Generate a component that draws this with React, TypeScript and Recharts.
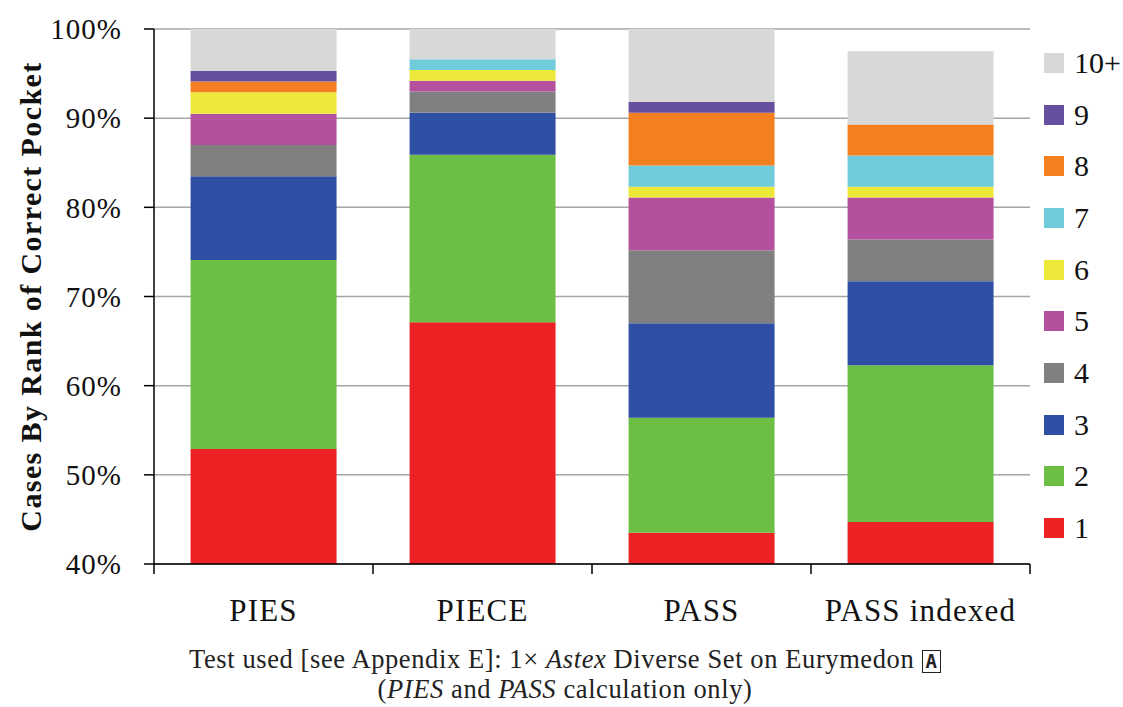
import React from 'react';
import { BarChart, Bar, XAxis, YAxis, CartesianGrid } from 'recharts';

const methods = ['PIES', 'PIECE', 'PASS', 'PASS indexed'];

// share of cases (%) for each rank of the correct pocket, per method
const rank1 = [52.9, 67.1, 43.5, 44.7];
const rank2 = [21.2, 18.8, 12.9, 17.6];
const rank3 = [9.4, 4.7, 10.6, 9.4];
const rank4 = [3.5, 2.4, 8.2, 4.7];
const rank5 = [3.5, 1.2, 5.9, 4.7];
const rank6 = [2.4, 1.2, 1.2, 1.2];
const rank7 = [0, 1.2, 2.4, 3.5];
const rank8 = [1.2, 0, 5.9, 3.5];
const rank9 = [1.2, 0, 1.2, 0];
const rank10plus = [4.7, 3.5, 8.2, 8.2];

const yTicks = [40, 50, 60, 70, 80, 90, 100];

const series = [
    { key: 'r1', label: '1', values: rank1, color: '#ED2224' },
    { key: 'r2', label: '2', values: rank2, color: '#6DBE45' },
    { key: 'r3', label: '3', values: rank3, color: '#2E4FA3' },
    { key: 'r4', label: '4', values: rank4, color: '#808080' },
    { key: 'r5', label: '5', values: rank5, color: '#B3519F' },
    { key: 'r6', label: '6', values: rank6, color: '#EEE83B' },
    { key: 'r7', label: '7', values: rank7, color: '#70CBDA' },
    { key: 'r8', label: '8', values: rank8, color: '#F37F20' },
    { key: 'r9', label: '9', values: rank9, color: '#674FA0' },
    { key: 'r10', label: '10+', values: rank10plus, color: '#D8D8D8' },
];

const data = methods.map((name, i) => {
    const row: Record<string, string | number> = { name };
    series.forEach(s => {
        row[s.key] = s.values[i];
    });
    return row;
});

const W = 1123;
const H = 707;
const PLOT_LEFT = 154;
const PLOT_RIGHT = 1030;
const PLOT_TOP = 29;
const PLOT_BOTTOM = 564;
const halfBand = (PLOT_RIGHT - PLOT_LEFT) / methods.length / 2;
const serif = '"Liberation Serif", "DejaVu Serif", serif';

const XTick = (props: any) => {
    const { x, y, payload, index } = props;
    return (
        <g>
            <line x1={x - halfBand} x2={x - halfBand} y1={y} y2={y + 10} stroke="#000" strokeWidth={1.5} />
            {index === methods.length - 1 && (
                <line x1={x + halfBand} x2={x + halfBand} y1={y} y2={y + 10} stroke="#000" strokeWidth={1.5} />
            )}
            <text x={x} y={y + 57} textAnchor="middle" fontSize={31} letterSpacing={1.2} fontFamily={serif} fill="#111">
                {payload.value}
            </text>
        </g>
    );
};

export default function App() {
    return (
        <div style={{ position: 'absolute', left: 0, top: 0, width: W, height: H, background: '#fff', fontFamily: serif }}>
            <BarChart
                width={W}
                height={H}
                data={data}
                margin={{ top: PLOT_TOP, right: W - PLOT_RIGHT, left: 0, bottom: H - PLOT_BOTTOM - 50 }}
                barCategoryGap="16.7%"
            >
                <CartesianGrid vertical={false} stroke="#A6A6A6" strokeWidth={1.5} />
                <XAxis
                    dataKey="name"
                    height={50}
                    tickLine={false}
                    tickSize={0}
                    tickMargin={0}
                    axisLine={{ stroke: '#000', strokeWidth: 1.5 }}
                    tick={<XTick />}
                    interval={0}
                />
                <YAxis
                    width={PLOT_LEFT}
                    domain={[40, 100]}
                    ticks={yTicks}
                    allowDataOverflow
                    tickFormatter={(v: number) => `${v}%`}
                    tickSize={10}
                    tickMargin={22}
                    tickLine={{ stroke: '#000', strokeWidth: 1.5 }}
                    axisLine={{ stroke: '#000', strokeWidth: 1.5 }}
                    tick={{ fontSize: 29, letterSpacing: 1, fontFamily: serif, fill: '#111' }}
                    label={{
                        value: 'Cases By Rank of Correct Pocket',
                        angle: -90,
                        position: 'insideLeft',
                        offset: 30,
                        style: { fontSize: 30, letterSpacing: 1.4, fontWeight: 'bold', fontFamily: serif, fill: '#111', textAnchor: 'middle' },
                    }}
                />
                {series.map(s => (
                    <Bar key={s.key} dataKey={s.key} stackId="a" fill={s.color} isAnimationActive={false} />
                ))}
            </BarChart>

            <div style={{ position: 'absolute', left: 1044, top: 37 }}>
                {[...series].reverse().map(s => (
                    <div key={s.key} style={{ display: 'flex', alignItems: 'center', height: 51.7 }}>
                        <div style={{ width: 20, height: 20, background: s.color, marginRight: 10 }} />
                        <span style={{ fontSize: 30, color: '#111', lineHeight: 1 }}>{s.label}</span>
                    </div>
                ))}
            </div>

            <div style={{ position: 'absolute', left: 0, top: 644, width: 1130, textAlign: 'center', fontSize: 26.5, letterSpacing: 0.6, color: '#222', lineHeight: '30px' }}>
                <div>
                    Test used [see Appendix E]: 1× <i>Astex</i> Diverse Set on Eurymedon{' '}
                    <span style={{ display: 'inline-block', border: '1.5px solid #222', fontFamily: '"DejaVu Sans Mono", monospace', fontWeight: 'bold', fontSize: 19, lineHeight: '21px', padding: '0 3px', verticalAlign: 'middle', letterSpacing: 0 }}>A</span>
                </div>
                <div>
                    (<i>PIES</i> and <i>PASS</i> calculation only)
                </div>
            </div>
        </div>
    );
}
